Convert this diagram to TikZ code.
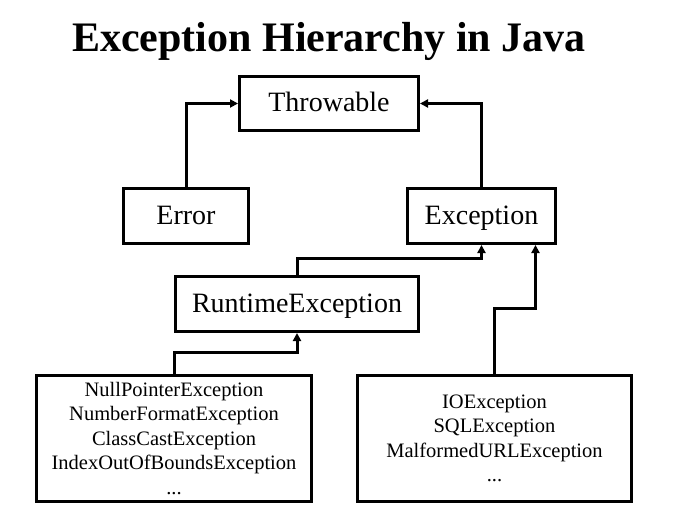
\documentclass[tikz,border=0pt]{standalone}
\usepackage{fontspec}
\setmainfont{Liberation Serif}
\usepackage{tikz}
\usetikzlibrary{arrows.meta,positioning,calc}

\begin{document}
\begin{tikzpicture}[x=1pt, y=-1pt,
    classbox/.style={draw, line width=3pt, inner sep=0pt,
                     text height=20pt, text depth=4pt,
                     font=\fontsize{28}{34}\selectfont},
    listbox/.style={draw, line width=3pt, inner sep=0pt, align=center,
                    font=\fontsize{20.5}{24.5}\selectfont},
    link/.style={line width=3pt, -{Triangle[length=8pt,width=8pt]}}]
  \useasboundingbox (0,0) rectangle (673,519);
  % Title
  \node[anchor=base, font=\bfseries\fontsize{42}{48}\selectfont]
    (title) at (329,52) {Exception Hierarchy in Java};
  % Classes
  \node[classbox, minimum width=179pt, minimum height=54pt]
    (thr) at (329,103.5) {Throwable};
  \node[classbox, minimum width=125pt, minimum height=55pt]
    (err) at (186,216) {Error};
  \node[classbox, minimum width=148pt, minimum height=55pt]
    (exc) at (481.5,216) {Exception};
  \node[classbox, minimum width=243pt, minimum height=55pt]
    (rte) at (297,304) {RuntimeException};
  % Subclasses
  \node[listbox, minimum width=275pt, minimum height=126pt]
    (unchecked) at (174,438.5) {NullPointerException\\NumberFormatException\\
      ClassCastException\\IndexOutOfBoundsException\\...};
  \node[listbox, minimum width=274pt, minimum height=126pt]
    (checked) at (494.5,438.5) {IOException\\SQLException\\
      MalformedURLException\\...};
  % Connectors
  \coordinate (excin) at ($(exc.south)+(54,0)$);
  \draw[link] (err.north) |- (thr.west);
  \draw[link] (exc.north) |- (thr.east);
  \draw[link] (rte.north) -- ++(0,-17) -| (exc.south);
  \draw[link] (checked.north) -- ++(0,-66) -| (excin);
  \draw[link] (unchecked.north) -- ++(0,-22) -| (rte.south);
\end{tikzpicture}
\end{document}
